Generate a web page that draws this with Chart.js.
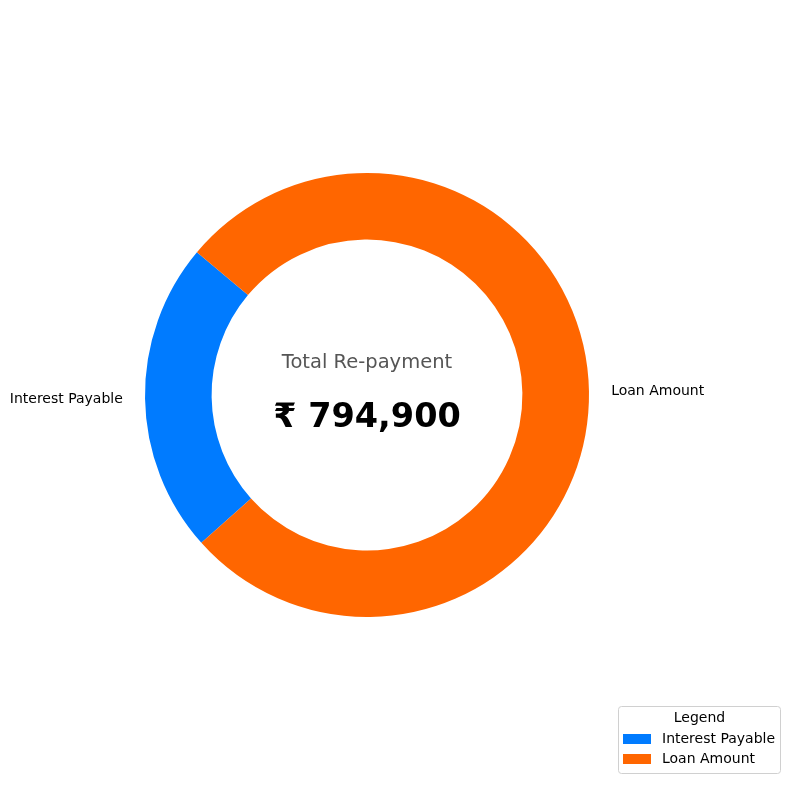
<!DOCTYPE html>
<html>
<head>
<meta charset="utf-8">
<script src="https://cdn.jsdelivr.net/npm/chart.js"></script>
<style>
  body { margin: 0; background: #fff; }
  #chart { display: block; }
</style>
</head>
<body>
<canvas id="chart" width="790" height="790"></canvas>
<script>
const categories = ['Interest Payable', 'Loan Amount'];
const amounts = [180500, 614400];
const colors = ['#007bff', '#ff6600'];
const centerTitle = 'Total Re-payment';
const startAngle = 140; // matplotlib-style start angle, counter-clockwise from 3 o'clock

const total = amounts.reduce((a, b) => a + b, 0);
const firstFrac = amounts[0] / total;
// chart.js draws clockwise from 12 o'clock, so flip it to match
const rotation = (90 - startAngle - firstFrac * 360 + 720) % 360;

const FONT = '"DejaVu Sans", sans-serif';

const overlay = {
  id: 'overlay',
  afterDraw(chart) {
    const c = chart.ctx;
    const meta = chart.getDatasetMeta(0);
    c.save();

    // outside labels
    c.font = '14px ' + FONT;
    c.fillStyle = '#000';
    c.textBaseline = 'middle';
    meta.data.forEach((arc, i) => {
      const mid = (arc.startAngle + arc.endAngle) / 2;
      const r = arc.outerRadius * 1.1;
      const x = arc.x + Math.cos(mid) * r;
      const y = arc.y + Math.sin(mid) * r + 0.5;
      c.textAlign = Math.cos(mid) < 0 ? 'right' : 'left';
      c.fillText(categories[i], x, y);
    });

    // centre text
    const cx = meta.data[0].x, cy = meta.data[0].y;
    c.textAlign = 'center';
    c.fillStyle = '#555';
    c.font = '19.5px ' + FONT;
    c.fillText(centerTitle, cx, cy - 32.5);
    c.fillStyle = '#000';
    c.font = 'bold 33.5px ' + FONT;
    c.fillText('₹ ' + total.toLocaleString('en-US'), cx, cy + 23.5);

    // legend box, bottom right
    const bx = 618.5, by = 706.5, bw = 162, bh = 67;
    c.beginPath();
    c.roundRect(bx, by, bw, bh, 3);
    c.fillStyle = 'rgba(255,255,255,0.8)';
    c.fill();
    c.strokeStyle = '#d0d0d0';
    c.lineWidth = 1;
    c.stroke();
    c.fillStyle = '#000';
    c.font = '14px ' + FONT;
    c.textAlign = 'center';
    c.fillText('Legend', bx + bw / 2, 718.5);
    c.textAlign = 'left';
    categories.forEach((name, i) => {
      const y = 739.5 + i * 20;
      c.fillStyle = colors[i];
      c.fillRect(623, y - 5.5, 28, 10);
      c.fillStyle = '#000';
      c.fillText(name, 662, y);
    });

    c.restore();
  }
};

new Chart(document.getElementById('chart'), {
  type: 'doughnut',
  data: {
    labels: categories,
    datasets: [{
      data: amounts,
      backgroundColor: colors,
      borderWidth: 0
    }]
  },
  options: {
    responsive: false,
    animation: false,
    events: [],
    rotation: rotation,
    cutout: '70%',
    layout: { padding: { left: 145, right: 201, top: 173, bottom: 173 } },
    plugins: {
      legend: { display: false },
      tooltip: { enabled: false }
    }
  },
  plugins: [overlay]
});
</script>
</body>
</html>
